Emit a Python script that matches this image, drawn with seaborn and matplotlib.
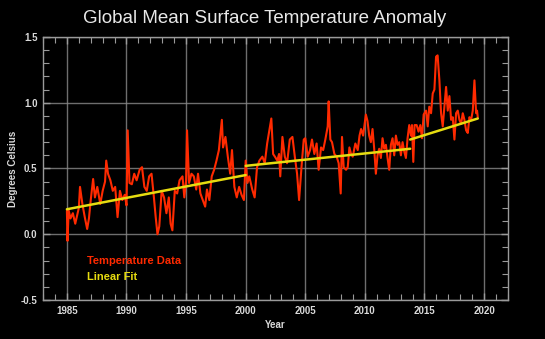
import matplotlib
matplotlib.use("Agg")
import matplotlib.pyplot as plt
from matplotlib.ticker import MultipleLocator
import numpy as np
import pandas as pd
import seaborn as sns

# Monthly-ish global mean surface temperature anomaly (deg C)
years = [
    1985.00, 1985.05, 1985.15, 1985.30, 1985.50, 1985.70, 1985.85, 1986.00, 1986.10, 1986.30,
    1986.50, 1986.70, 1986.85, 1987.00, 1987.20, 1987.35, 1987.55, 1987.80, 1988.00, 1988.20,
    1988.30, 1988.45, 1988.65, 1988.85, 1989.05, 1989.25, 1989.45, 1989.65, 1989.85, 1990.00,
    1990.10, 1990.25, 1990.45, 1990.65, 1990.85, 1991.10, 1991.30, 1991.50, 1991.70, 1991.90,
    1992.10, 1992.30, 1992.45, 1992.60, 1992.75, 1992.95, 1993.15, 1993.35, 1993.55, 1993.70,
    1993.85, 1994.05, 1994.25, 1994.45, 1994.70, 1994.85, 1995.00, 1995.08, 1995.25, 1995.45,
    1995.65, 1995.85, 1996.00, 1996.20, 1996.40, 1996.60, 1996.75, 1996.95, 1997.15, 1997.35,
    1997.55, 1997.75, 1998.00, 1998.10, 1998.30, 1998.50, 1998.70, 1998.85, 1999.05, 1999.25,
    1999.45, 1999.65, 1999.85, 2000.00, 2000.15, 2000.30, 2000.55, 2000.75, 2000.95, 2001.15,
    2001.40, 2001.60, 2001.80, 2001.95, 2002.15, 2002.30, 2002.45, 2002.65, 2002.80, 2002.90,
    2003.08, 2003.28, 2003.47, 2003.70, 2003.92, 2004.12, 2004.31, 2004.48, 2004.68, 2004.87,
    2005.00, 2005.20, 2005.40, 2005.56, 2005.76, 2005.95, 2006.12, 2006.32, 2006.50, 2006.68,
    2006.88, 2006.96, 2007.10, 2007.24, 2007.44, 2007.63, 2007.80, 2007.97, 2008.08, 2008.22,
    2008.42, 2008.56, 2008.70, 2008.84, 2008.98, 2009.20, 2009.40, 2009.55, 2009.68, 2009.85,
    2010.08, 2010.22, 2010.36, 2010.50, 2010.64, 2010.78, 2010.92, 2011.06, 2011.20, 2011.34,
    2011.48, 2011.62, 2011.76, 2011.90, 2012.04, 2012.18, 2012.32, 2012.46, 2012.60, 2012.74,
    2012.88, 2013.02, 2013.16, 2013.30, 2013.44, 2013.58, 2013.72, 2013.86, 2013.95, 2014.06,
    2014.17, 2014.34, 2014.50, 2014.65, 2014.79, 2014.93, 2015.13, 2015.27, 2015.40, 2015.55,
    2015.69, 2015.83, 2015.97, 2016.10, 2016.25, 2016.39, 2016.53, 2016.67, 2016.81, 2016.95,
    2017.09, 2017.23, 2017.37, 2017.51, 2017.65, 2017.79, 2017.93, 2018.07, 2018.21, 2018.35,
    2018.49, 2018.63, 2018.77, 2018.91, 2019.05, 2019.19, 2019.33, 2019.41, 2019.47,
]
anomaly = [
    0.18, -0.05, 0.18, 0.12, 0.16, 0.08, 0.14, 0.20, 0.36, 0.23,
    0.13, 0.04, 0.12, 0.26, 0.42, 0.28, 0.36, 0.23, 0.33, 0.40,
    0.56, 0.46, 0.41, 0.33, 0.36, 0.13, 0.33, 0.26, 0.30, 0.22,
    0.79, 0.39, 0.38, 0.46, 0.41, 0.49, 0.51, 0.36, 0.33, 0.44,
    0.46, 0.28, 0.13, 0.00, 0.06, 0.33, 0.28, 0.16, 0.28, 0.08,
    0.03, 0.33, 0.31, 0.41, 0.44, 0.28, 0.41, 0.79, 0.39, 0.46,
    0.44, 0.34, 0.46, 0.31, 0.26, 0.21, 0.34, 0.26, 0.44, 0.49,
    0.56, 0.64, 0.87, 0.66, 0.74, 0.59, 0.46, 0.64, 0.36, 0.28,
    0.36, 0.30, 0.26, 0.56, 0.39, 0.44, 0.34, 0.28, 0.51, 0.56,
    0.59, 0.54, 0.69, 0.77, 0.88, 0.61, 0.59, 0.56, 0.61, 0.44,
    0.74, 0.59, 0.54, 0.72, 0.74, 0.59, 0.46, 0.26, 0.51, 0.72,
    0.73, 0.59, 0.64, 0.72, 0.61, 0.69, 0.49, 0.66, 0.64, 0.72,
    0.82, 1.01, 0.72, 0.70, 0.61, 0.59, 0.54, 0.31, 0.74, 0.51,
    0.49, 0.51, 0.66, 0.61, 0.59, 0.69, 0.64, 0.75, 0.80, 0.75,
    0.91, 0.86, 0.75, 0.70, 0.80, 0.65, 0.46, 0.60, 0.65, 0.58,
    0.73, 0.65, 0.68, 0.58, 0.49, 0.68, 0.73, 0.60, 0.75, 0.68,
    0.70, 0.60, 0.70, 0.63, 0.58, 0.73, 0.83, 0.75, 0.83, 0.55,
    0.83, 0.83, 0.78, 0.83, 0.73, 0.91, 0.94, 0.82, 0.97, 0.92,
    1.07, 1.10, 1.35, 1.36, 1.17, 0.92, 0.82, 0.97, 1.12, 0.94,
    1.05, 0.87, 0.89, 0.72, 0.92, 0.94, 0.87, 0.84, 0.92, 0.87,
    0.79, 0.77, 0.89, 0.87, 0.94, 1.17, 0.92, 0.94, 0.89,
]

# Piecewise linear fits: one start/end pair per period
fit_period = ["1985-2000", "1985-2000", "2000-2014", "2000-2014", "2014-2019", "2014-2019"]
fit_years = [1985.0, 2000.0, 2000.0, 2013.8, 2013.8, 2019.47]
fit_values = [0.19, 0.45, 0.52, 0.65, 0.72, 0.88]

x_ticks = [1985, 1990, 1995, 2000, 2005, 2010, 2015, 2020]
y_ticks = [-0.5, 0.0, 0.5, 1.0, 1.5]

RED = "#ff2a00"
YELLOW = "#e6dc10"
FG = "#d9d9d9"

sns.set_theme(style="dark")
plt.rcParams["font.family"] = ["Liberation Sans", "DejaVu Sans"]

fig = plt.figure(figsize=(5.45, 3.39), dpi=100, facecolor="black")
ax = fig.add_axes([0.079, 0.115, 0.853, 0.776], facecolor="black")

temps = pd.DataFrame({"year": years, "anomaly": anomaly})
fits = pd.DataFrame({"period": fit_period, "year": fit_years, "value": fit_values})

sns.lineplot(data=temps, x="year", y="anomaly", ax=ax, color=RED, linewidth=1.5,
             estimator=None, sort=False, zorder=3)
sns.lineplot(data=fits, x="year", y="value", units="period", ax=ax, color=YELLOW,
             linewidth=1.8, estimator=None, sort=False, zorder=4)

ax.set_xlim(1983.0, 2022.0)
ax.set_ylim(-0.5, 1.5)
ax.set_xticks(x_ticks)
ax.set_yticks(y_ticks)
ax.set_xticklabels([str(v) for v in x_ticks])
ax.set_yticklabels([f"{v:.1f}" for v in y_ticks])
ax.xaxis.set_minor_locator(MultipleLocator(1))
ax.yaxis.set_minor_locator(MultipleLocator(0.1))

ax.grid(True, which="major", color="#8a8a8a", linewidth=1.0, alpha=0.8)
ax.grid(False, which="minor")
for side in ax.spines.values():
    side.set_visible(True)
    side.set_color("#9a9a9a")
    side.set_linewidth(1.0)

ax.tick_params(which="both", direction="in", top=True, right=True, bottom=True, left=True,
               colors="#9a9a9a", labelcolor=FG)
ax.tick_params(which="major", length=5, width=1.0, labelsize=7, pad=4)
ax.tick_params(which="minor", length=4, width=0.8)
for lab in ax.get_xticklabels() + ax.get_yticklabels():
    lab.set_fontweight("bold")

ax.set_xlabel("Year", color=FG, fontsize=7, fontweight="bold", labelpad=3)
ax.set_ylabel("Degrees Celsius", color=FG, fontsize=7, fontweight="bold", labelpad=2)

fig.text(0.485, 0.945, "Global Mean Surface Temperature Anomaly", color="#e8e8e8",
         fontsize=13.5, ha="center", va="center")

ax.text(0.095, 0.148, "Temperature Data", transform=ax.transAxes, color=RED,
        fontsize=8, fontweight="bold", va="center", ha="left")
ax.text(0.095, 0.087, "Linear Fit", transform=ax.transAxes, color=YELLOW,
        fontsize=8, fontweight="bold", va="center", ha="left")

fig.savefig("out.png", dpi=100, facecolor="black")
